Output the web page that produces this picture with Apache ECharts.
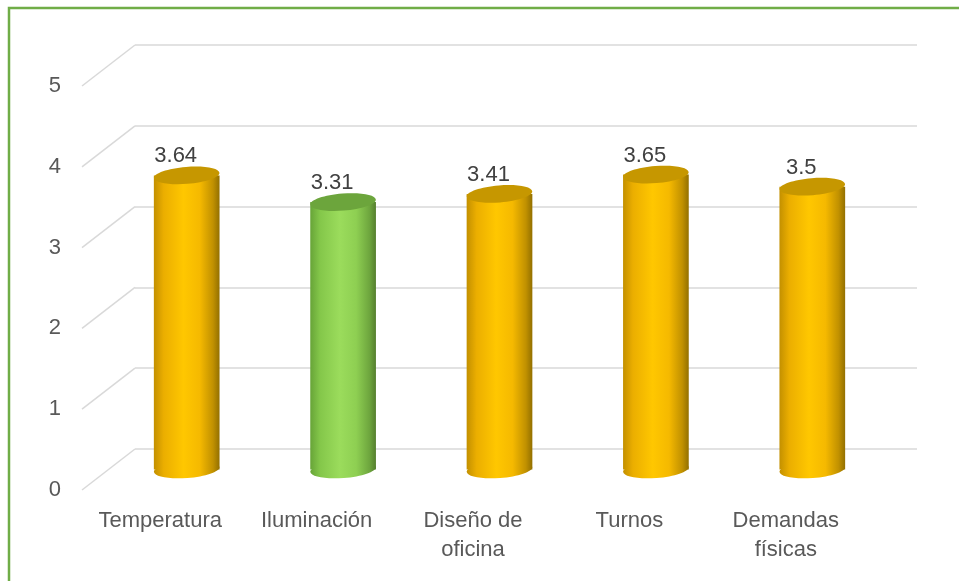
<!DOCTYPE html>
<html>
<head>
<meta charset="utf-8">
<script src="https://cdn.jsdelivr.net/npm/echarts@6/dist/echarts.min.js"></script>
<style>
  html, body { margin: 0; padding: 0; background: #fff; }
  #chart { width: 959px; height: 581px; }
</style>
</head>
<body>
<div id="chart"></div>
<script>
  const categories = ['Temperatura', 'Iluminación', 'Diseño de oficina', 'Turnos', 'Demandas físicas']
  const values = [3.64, 3.31, 3.41, 3.65, 3.5]
  const yTicks = [0, 1, 2, 3, 4, 5]

  // back wall of the 3D box, and how far the floor comes forward
  const back = { left: 135, right: 42, top: 45, bottom: 132 }
  const depth = { x: 53, y: 41 }
  const mid = { left: back.left - depth.x / 2, right: back.right + depth.x / 2, top: back.top + depth.y / 2, bottom: back.bottom - depth.y / 2 }
  const front = { left: back.left - depth.x, right: back.right + depth.x, top: back.top + depth.y, bottom: back.bottom - depth.y }

  const font = '"Liberation Sans", Arial, sans-serif'
  const minIndex = values.indexOf(Math.min(...values))

  const gold = new echarts.graphic.LinearGradient(0, 0, 1, 0, [
    { offset: 0, color: '#c39000' },
    { offset: 0.15, color: '#ebae00' },
    { offset: 0.45, color: '#ffc700' },
    { offset: 0.7, color: '#f5b900' },
    { offset: 0.9, color: '#c19100' },
    { offset: 1, color: '#937000' }
  ])
  const green = new echarts.graphic.LinearGradient(0, 0, 1, 0, [
    { offset: 0, color: '#67a438' },
    { offset: 0.15, color: '#84c74a' },
    { offset: 0.45, color: '#9bdc5c' },
    { offset: 0.7, color: '#8ecf52' },
    { offset: 0.9, color: '#6ea63e' },
    { offset: 1, color: '#557f2e' }
  ])

  const chart = echarts.init(document.getElementById('chart'))

  function cylinder (params, api) {
    const idx = api.value(0)
    const top = api.coord([idx, api.value(1)])
    const base = api.coord([idx, 0])
    const w = api.size([1, 0])[0] * 0.42
    const ry = 8.5
    const hl = idx === minIndex
    const body = hl ? green : gold
    const cap = hl ? '#6ca53c' : '#c69700'
    const tilt = 0.08
    return {
      type: 'group',
      children: [
        { type: 'ellipse', shape: { cx: base[0], cy: base[1], rx: w / 2, ry: ry }, rotation: tilt, originX: base[0], originY: base[1], style: { fill: body } },
        { type: 'rect', shape: { x: base[0] - w / 2, y: top[1], width: w, height: base[1] - top[1] }, style: { fill: body } },
        { type: 'ellipse', shape: { cx: top[0], cy: top[1], rx: w / 2, ry: ry }, rotation: tilt, originX: top[0], originY: top[1], style: { fill: cap } },
        { type: 'text', x: top[0] - 11, y: top[1] - 8, style: { text: String(api.value(1)), fill: '#404040', font: '22px ' + font, textAlign: 'center', textVerticalAlign: 'bottom' } }
      ]
    }
  }

  function diagonal (params, api) {
    const y = api.coord([0, api.value(1)])[1]
    const x = params.coordSys.x
    return {
      type: 'line',
      shape: { x1: x, y1: y, x2: x - depth.x, y2: y + depth.y },
      style: { stroke: '#d9d9d9', lineWidth: 1.5 }
    }
  }

  const hiddenCat = { type: 'category', data: categories, show: false }
  const hiddenVal = { type: 'value', min: 0, max: 5, interval: 1, show: false }

  chart.setOption({
    backgroundColor: '#fff',
    animation: false,
    grid: [back, mid, front],
    xAxis: [
      Object.assign({ gridIndex: 0 }, hiddenCat),
      Object.assign({ gridIndex: 1 }, hiddenCat),
      {
        gridIndex: 2,
        type: 'category',
        data: categories,
        axisLine: { show: false },
        axisTick: { show: false },
        axisLabel: {
          margin: 16,
          color: '#595959',
          fontFamily: font,
          fontSize: 22,
          lineHeight: 29,
          interval: 0,
          formatter: (name) => name.length > 12 ? name.replace(/ (\S+)$/, '\n$1') : name
        }
      }
    ],
    yAxis: [
      {
        gridIndex: 0,
        type: 'value',
        min: 0,
        max: 5,
        interval: 1,
        axisLine: { show: false },
        axisTick: { show: false },
        axisLabel: { show: false },
        splitLine: { lineStyle: { color: '#d9d9d9', width: 1.5 } }
      },
      Object.assign({ gridIndex: 1 }, hiddenVal),
      {
        gridIndex: 2,
        type: 'value',
        min: 0,
        max: 5,
        interval: 1,
        axisLine: { show: false },
        axisTick: { show: false },
        splitLine: { show: false },
        axisLabel: { margin: 21, color: '#595959', fontFamily: font, fontSize: 22 }
      }
    ],
    series: [
      {
        type: 'custom',
        xAxisIndex: 0,
        yAxisIndex: 0,
        silent: true,
        renderItem: diagonal,
        data: yTicks.map((v) => [0, v])
      },
      {
        type: 'custom',
        xAxisIndex: 1,
        yAxisIndex: 1,
        silent: true,
        renderItem: cylinder,
        data: values.map((v, i) => [i, v])
      }
    ],
    graphic: [{
      type: 'rect',
      silent: true,
      shape: { x: 9, y: 8, width: 1000, height: 1000 },
      style: { fill: 'none', stroke: '#70ad47', lineWidth: 2.5 }
    }]
  })
</script>
</body>
</html>
